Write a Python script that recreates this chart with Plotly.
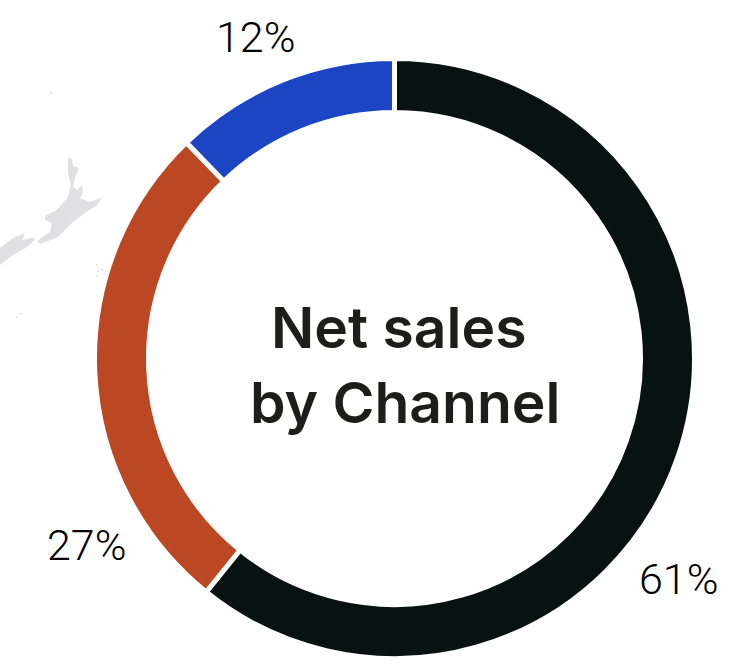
import plotly.graph_objects as go

W, H = 744, 664

channels = ["Channel A", "Channel B", "Channel C"]
shares = [60.8, 27.0, 12.2]
colors = ["#081210", "#bb4822", "#1c45c4"]
center_lines = ["Net sales", "by Channel"]

# faint background map fragments (pixel outline of the backdrop picture)
land_a = [(68,158),(72,159),(73,166),(79,168),(75,178),(73,187),(77,190),(82,185),(83,193),(80,198),
          (90,202),(103,197),(97,205),(85,213),(73,222),(58,237),(40,244),(37,241),(50,232),(52,223),
          (45,220),(45,216),(57,210),(68,197),(71,185),(68,173)]
land_b = [(0,248),(13,238),(25,233),(22,240),(28,239),(33,237),(35,240),(27,247),(13,255),(0,265)]
dots = [(51,93),(17,317),(21,314),(97,265),(98,271),(102,270),(97,276)]


def px_path(points):
    return "M" + " L".join(f"{x/W:.4f},{1-y/H:.4f}" for x, y in points) + " Z"


fig = go.Figure(go.Pie(
    labels=channels,
    values=shares,
    sort=False,
    direction="clockwise",
    rotation=0,
    hole=0.82,
    textinfo="none",
    hoverinfo="label+percent",
    showlegend=False,
    marker=dict(colors=colors, line=dict(color="white", width=5)),
    domain=dict(x=[94.5/W, 694.5/W], y=[1-658.5/H, 1-58.5/H]),
))

shapes = [dict(type="path", path=px_path(p), xref="paper", yref="paper",
               fillcolor="#e0e0e2", line=dict(width=0), layer="below")
          for p in (land_a, land_b)]
shapes += [dict(type="circle", xref="paper", yref="paper",
                x0=(x-1)/W, x1=(x+1)/W, y0=1-(y+1)/H, y1=1-(y-1)/H,
                fillcolor="#e0e0e2", line=dict(width=0), layer="below")
           for x, y in dots]

pct_font = dict(family="Roboto", size=43, color="#000000", weight=300)
center_font = dict(family="Inter", size=57, color="#1d1d1b", weight=600)
annotations = [
    dict(text=f"{round(shares[0])}%", x=679/W, y=1-579/H, font=pct_font),
    dict(text=f"{round(shares[1])}%", x=87/W, y=1-545/H, font=pct_font),
    dict(text=f"{round(shares[2])}%", x=256/W, y=1-37/H, font=pct_font),
    dict(text=center_lines[0], x=398/W, y=1-328/H, font=center_font),
    dict(text=center_lines[1], x=405/W, y=1-402/H, font=center_font),
]
for a in annotations:
    a.update(xref="paper", yref="paper", showarrow=False, xanchor="center", yanchor="middle")

fig.update_layout(
    width=W, height=H,
    margin=dict(l=0, r=0, t=0, b=0),
    paper_bgcolor="white",
    shapes=shapes,
    annotations=annotations,
)
fig.write_html("out.html", config={"displayModeBar": False},
               post_script="document.body.style.margin='0';")
